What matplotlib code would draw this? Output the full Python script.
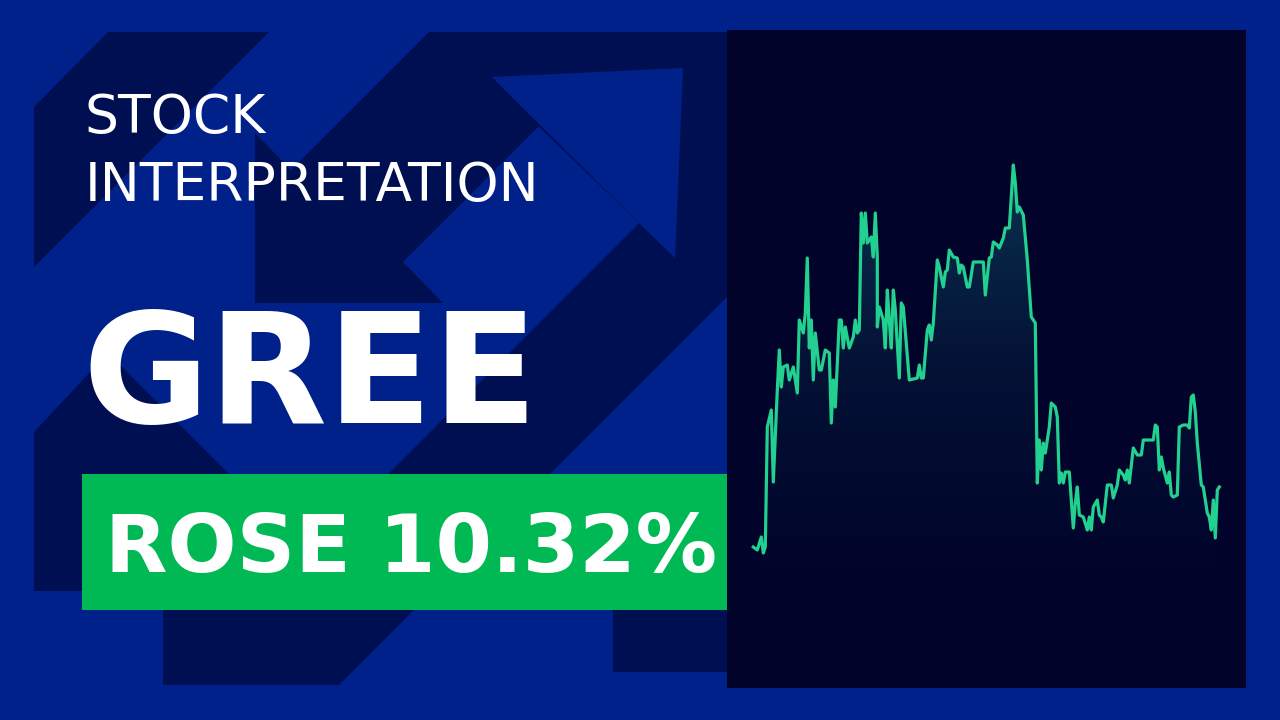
import numpy as np
import matplotlib
matplotlib.use("Agg")
import matplotlib.pyplot as plt
from matplotlib.patches import Polygon, Rectangle
from matplotlib.colors import LinearSegmentedColormap

# price history (trading-day index, close price)
days = [0, 2, 4, 5, 6, 7, 9, 10, 12, 13, 14, 15, 17, 18, 20, 22, 23, 25, 26, 27,
        28, 29, 30, 31, 33, 34, 36, 38, 39, 40, 41, 43, 44, 45, 46, 48, 50, 51, 52, 53,
        54, 55, 56, 57, 59, 60, 61, 62, 62, 63, 65, 66, 67, 68, 69, 70, 71, 73, 74, 75,
        78, 82, 83, 84, 85, 87, 88, 89, 90, 92, 93, 95, 96, 97, 98, 100, 102, 103, 104, 105,
        107, 108, 110, 115, 116, 118, 119, 120, 122, 123, 125, 126, 128, 130, 131, 132, 133, 135, 137, 139,
        141, 142, 143, 144, 145, 146, 148, 149, 151, 152, 153, 154, 155, 156, 158, 160, 161, 162, 163, 165,
        167, 168, 169, 170, 172, 173, 174, 175, 177, 179, 180, 182, 183, 185, 186, 187, 188, 190, 192, 194,
        195, 198, 200, 201, 202, 203, 204, 205, 207, 208, 209, 210, 212, 213, 215, 217, 218, 219, 220, 221,
        222, 224, 225, 227, 228, 229, 230, 231, 232, 233]
prices = [581, 578, 591, 575, 581, 701, 718, 646, 738, 778, 741, 761, 763, 748, 761, 735, 808, 795, 815, 870,
          780, 808, 748, 795, 758, 758, 778, 775, 705, 748, 721, 808, 808, 780, 801, 780, 791, 808, 795, 798,
          915, 885, 915, 885, 891, 871, 915, 871, 801, 821, 808, 780, 838, 808, 780, 838, 818, 750, 825, 821,
          748, 750, 763, 750, 750, 798, 803, 788, 805, 868, 861, 841, 856, 858, 878, 871, 870, 855, 863, 861,
          841, 841, 866, 866, 833, 870, 871, 886, 883, 880, 890, 900, 900, 963, 945, 916, 921, 913, 868, 811,
          805, 645, 688, 658, 685, 675, 701, 725, 721, 711, 645, 655, 645, 656, 656, 600, 625, 641, 613, 611,
          598, 611, 598, 621, 628, 613, 611, 606, 643, 643, 630, 643, 658, 653, 648, 658, 645, 680, 673, 673,
          688, 688, 688, 703, 701, 658, 671, 660, 645, 656, 633, 631, 633, 701, 703, 703, 700, 731, 733, 716,
          685, 643, 641, 615, 611, 598, 628, 590, 638, 641]

ticker = "GREE"
headline = ["STOCK", "INTERPRETATION"]
change_label = "ROSE 10.32%"

BG = "#00218a"
DARK = "#000f52"
PANEL = "#01032a"
GREEN = "#00b955"
LINE = "#22d08f"

W, H = 1280, 720
fig = plt.figure(figsize=(12.8, 7.2), dpi=100)
fig.patch.set_facecolor(BG)


def px(pts):
    return [(x / W, 1 - y / H) for x, y in pts]


def shape(pts, color, z=1):
    fig.patches.append(Polygon(px(pts), closed=True, transform=fig.transFigure,
                               facecolor=color, edgecolor="none", zorder=z))


# background arrow pattern
shape([(34, 107), (108, 32), (269, 32), (34, 267)], DARK)
shape([(255, 303), (443, 303), (403, 262), (633, 32), (429, 32), (291, 170), (255, 133)], DARK)
shape([(633, 32), (727, 32), (727, 297), (339, 685), (163, 685), (163, 505), (260, 602),
       (639, 223), (537, 125)], DARK)
shape([(537, 122), (492, 77), (683, 68), (675, 258), (639, 223)], BG, 2)
shape([(34, 432), (108, 353), (245, 490), (245, 591), (34, 591)], DARK)
shape([(613, 560), (727, 560), (727, 672), (613, 672)], DARK)

# green label box
fig.patches.append(Rectangle((82 / W, 1 - 610 / H), (727 - 82) / W, (610 - 474) / H,
                             transform=fig.transFigure, facecolor=GREEN, edgecolor="none", zorder=3))

fig.text(85 / W, 1 - 133 / H, headline[0], color="white", fontsize=38.5, va="baseline", zorder=4)
fig.text(85 / W, 1 - 201 / H, headline[1], color="white", fontsize=38.5, va="baseline", zorder=4)
fig.text(82 / W, 1 - 423 / H, ticker, color="white", fontsize=111, fontweight="bold",
         va="baseline", zorder=4)
fig.text(105 / W, 1 - 572 / H, change_label, color="white", fontsize=58.5, fontweight="bold",
         va="baseline", zorder=4)

# chart panel
ax = fig.add_axes([727 / W, 1 - 688 / H, (1246 - 727) / W, (688 - 30) / H])
ax.set_facecolor(PANEL)
for s in ax.spines.values():
    s.set_visible(False)
ax.set_xticks([])
ax.set_yticks([])

x0, x1 = -13.15, 246.35
y0, y1 = 440, 1098

fill = ax.fill_between(days, prices, y0, color="none", lw=0)
cmap = LinearSegmentedColormap.from_list(
    "fade", [(0.05, 0.28, 0.38, 0.0), (0.05, 0.28, 0.38, 0.2), (0.06, 0.34, 0.42, 0.6)])
grad = np.linspace(0, 1, 256).reshape(-1, 1)
im = ax.imshow(grad, extent=[x0, x1, 540, max(prices)], origin="lower", cmap=cmap,
               aspect="auto", zorder=1, interpolation="bicubic")
im.set_clip_path(fill.get_paths()[0], ax.transData)

ax.plot(days, prices, color=LINE, lw=2.3, solid_joinstyle="round", zorder=2)

ax.set_xlim(x0, x1)
ax.set_ylim(y0, y1)

fig.savefig("out.png", dpi=100, facecolor=BG)
